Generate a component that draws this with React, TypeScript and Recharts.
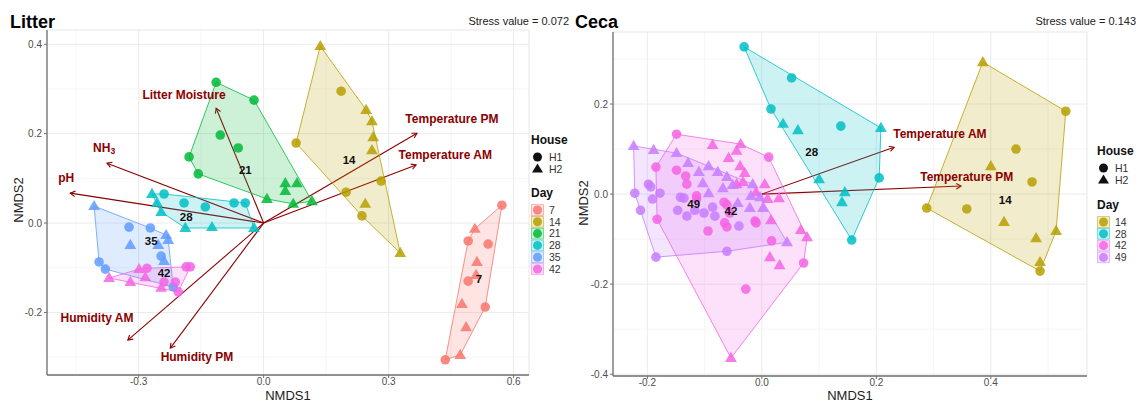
import React from 'react';
import { ScatterChart, Scatter, XAxis, YAxis, CartesianGrid, ReferenceLine } from 'recharts';

const FONT = '"Liberation Sans", Arial, Helvetica, sans-serif';
const ARROW = '#8B0000';

const dayColors: Record<string, string> = {
  '7': '#F8766D', '14': '#B79F00', '21': '#00BA38', '28': '#00BFC4',
  '35': '#619CFF', '42': '#F564E3', '49': '#C77CFF',
};

// ---- Litter ordination scores (H1 = circles, H2 = triangles)
const litterD7H1 = [[0.572, 0.040], [0.491, -0.040], [0.539, -0.047], [0.491, -0.130], [0.532, -0.188], [0.436, -0.306]];
const litterD7H2 = [[0.507, -0.013], [0.512, -0.087], [0.510, -0.116], [0.476, -0.181], [0.486, -0.233], [0.472, -0.295]];
const litterD14H1 = [[0.186, 0.295], [0.078, 0.179], [0.282, 0.094], [0.198, 0.069], [0.236, 0.016]];
const litterD14H2 = [[0.136, 0.396], [0.246, 0.253], [0.260, 0.228], [0.263, 0.192], [0.260, 0.163], [0.244, 0.043], [0.328, -0.067]];
const litterD21H1 = [[-0.114, 0.315], [-0.023, 0.275], [-0.104, 0.197], [-0.061, 0.168], [-0.179, 0.148], [-0.157, 0.110]];
const litterD21H2 = [[0.052, 0.089], [0.080, 0.089], [0.052, 0.072], [0.008, 0.054], [0.071, 0.043], [0.116, 0.049]];
const litterD28H1 = [[-0.239, 0.065], [-0.191, 0.045], [-0.140, 0.036], [-0.071, 0.045], [-0.044, 0.045]];
const litterD28H2 = [[-0.268, 0.065], [-0.256, 0.045], [-0.246, 0.025], [-0.188, -0.011], [-0.124, -0.009], [-0.023, -0.011]];
const litterD35H1 = [[-0.323, -0.009], [-0.272, -0.011], [-0.246, -0.074], [-0.395, -0.087], [-0.380, -0.103], [-0.217, -0.143]];
const litterD35H2 = [[-0.407, 0.038], [-0.234, -0.027], [-0.229, -0.038], [-0.320, -0.049], [-0.253, -0.049], [-0.239, -0.085]];
const litterD42H1 = [[-0.280, -0.101], [-0.186, -0.098], [-0.176, -0.098], [-0.239, -0.132], [-0.212, -0.132], [-0.205, -0.154]];
const litterD42H2 = [[-0.371, -0.123], [-0.320, -0.132], [-0.299, -0.103], [-0.284, -0.121], [-0.246, -0.145]];

const litterDays = ['7', '14', '21', '28', '35', '42'];
const litterDayLabelX = [0.517, 0.205, -0.044, -0.186, -0.270, -0.239];
const litterDayLabelY = [-0.125, 0.141, 0.119, 0.013, -0.040, -0.112];

const litterVars = ['Litter Moisture', 'NH3', 'pH', 'Temperature PM', 'Temperature AM', 'Humidity AM', 'Humidity PM'];
const litterVarX = [-0.114, -0.376, -0.464, 0.368, 0.366, -0.326, -0.224];
const litterVarY = [0.257, 0.134, 0.067, 0.201, 0.130, -0.262, -0.280];
const litterVarLabelX = [-0.191, -0.383, -0.474, 0.452, 0.436, -0.400, -0.160];
const litterVarLabelY = [0.286, 0.168, 0.101, 0.233, 0.152, -0.213, -0.300];

// ---- Ceca ordination scores
const cecaD14H1 = [[0.531, 0.184], [0.444, 0.100], [0.472, 0.027], [0.288, -0.031], [0.358, -0.033], [0.486, -0.171]];
const cecaD14H2 = [[0.386, 0.293], [0.400, 0.062], [0.423, -0.062], [0.514, -0.082], [0.479, -0.098], [0.486, -0.151]];
const cecaD28H1 = [[-0.031, 0.327], [0.052, 0.258], [0.016, 0.189], [0.138, 0.151], [0.205, 0.036], [0.157, -0.102]];
const cecaD28H2 = [[0.037, 0.156], [0.063, 0.142], [0.208, 0.147], [0.100, 0.033], [0.145, 0.004], [0.140, -0.018]];
const cecaD42H1 = [[-0.149, 0.133], [0.012, 0.082], [-0.185, 0.060], [-0.149, 0.053], [-0.133, 0.040], [-0.131, 0.022], [-0.114, -0.004],
  [-0.114, -0.011], [-0.066, -0.018], [-0.061, -0.024], [-0.056, -0.042], [-0.065, -0.064], [-0.061, -0.073], [-0.094, -0.082],
  [-0.012, -0.060], [-0.010, -0.064], [-0.183, -0.056], [0.017, -0.104], [0.073, -0.153], [-0.028, -0.211]];
const cecaD42H2 = [[-0.086, 0.109], [-0.037, 0.111], [-0.058, 0.080], [-0.044, 0.096], [-0.038, 0.062], [-0.030, 0.047], [-0.033, 0.027],
  [-0.044, 0.022], [-0.010, 0.004], [0.005, 0.022], [0.010, -0.011], [0.030, -0.009], [0.016, -0.058], [0.068, -0.080],
  [0.079, -0.096], [0.014, -0.140], [0.031, -0.158], [-0.054, -0.364]];
const cecaD49H1 = [[-0.222, 0.002], [-0.198, 0.022], [-0.194, 0.016], [-0.178, 0.002], [-0.191, -0.011], [-0.212, -0.036], [-0.142, -0.007],
  [-0.136, -0.009], [-0.147, -0.036], [-0.131, -0.049], [-0.117, -0.036], [-0.101, -0.042], [-0.086, -0.029], [-0.082, -0.049],
  [-0.040, -0.071], [-0.061, -0.127], [-0.185, -0.140]];
const cecaD49H2 = [[-0.224, 0.107], [-0.189, 0.098], [-0.149, 0.091], [-0.129, 0.069], [-0.110, 0.049], [-0.093, 0.062], [-0.077, 0.049],
  [-0.061, 0.038], [-0.103, 0.024], [-0.093, 0.002], [-0.068, 0.013], [-0.051, 0.020], [-0.016, 0.022], [-0.019, -0.004],
  [-0.003, -0.007], [-0.042, -0.020], [-0.021, -0.031], [0.002, -0.031], [0.044, -0.107]];

const cecaDays = ['14', '28', '42', '49'];
const cecaDayLabelX = [0.425, 0.087, -0.054, -0.119];
const cecaDayLabelY = [-0.013, 0.093, -0.038, -0.022];

const cecaVars = ['Temperature AM', 'Temperature PM'];
const cecaVarX = [0.231, 0.348];
const cecaVarY = [0.104, 0.018];
const cecaVarLabelX = [0.311, 0.358];
const cecaVarLabelY = [0.133, 0.038];

const litterXTicks = [-0.3, 0, 0.3, 0.6];
const litterXMinor = [-0.45, -0.15, 0.15, 0.45];
const litterYTicks = [-0.2, 0, 0.2, 0.4];
const litterYMinor = [-0.3, -0.1, 0.1, 0.3];
const cecaXTicks = [-0.2, 0, 0.2, 0.4];
const cecaXMinor = [-0.1, 0.1, 0.3, 0.5];
const cecaYTicks = [-0.4, -0.2, 0, 0.2];
const cecaYMinor = [-0.3, -0.1, 0.1, 0.3];

type Pt = number[];

function convexHull(pts: Pt[]): Pt[] {
  const p = [...pts].sort((a, b) => a[0] - b[0] || a[1] - b[1]);
  const cross = (o: Pt, a: Pt, b: Pt) => (a[0] - o[0]) * (b[1] - o[1]) - (a[1] - o[1]) * (b[0] - o[0]);
  const lower: Pt[] = [];
  for (const q of p) {
    while (lower.length >= 2 && cross(lower[lower.length - 2], lower[lower.length - 1], q) <= 0) lower.pop();
    lower.push(q);
  }
  const upper: Pt[] = [];
  for (let i = p.length - 1; i >= 0; i--) {
    const q = p[i];
    while (upper.length >= 2 && cross(upper[upper.length - 2], upper[upper.length - 1], q) <= 0) upper.pop();
    upper.push(q);
  }
  upper.pop();
  lower.pop();
  const h = lower.concat(upper);
  h.push(h[0]);
  return h;
}

const toXY = (pts: Pt[]) => pts.map(([x, y]) => ({ x, y }));

const dotShape = (color: string) => (p: any) => (
  <circle cx={p.cx} cy={p.cy} r={4.8} fill={color} fillOpacity={0.85} />
);
const triShape = (color: string) => (p: any) => (
  <path d={`M${p.cx},${p.cy - 6.2} L${p.cx + 5.9},${p.cy + 4} L${p.cx - 5.9},${p.cy + 4} Z`} fill={color} fillOpacity={0.85} />
);

const arrowShape = (p: any) => {
  const { x1, y1, x2, y2 } = p;
  const ang = Math.atan2(y2 - y1, x2 - x1);
  const L = 5.5;
  const a = Math.PI / 6;
  const ax = x2 - L * Math.cos(ang - a);
  const ay = y2 - L * Math.sin(ang - a);
  const bx = x2 - L * Math.cos(ang + a);
  const by = y2 - L * Math.sin(ang + a);
  return (
    <g>
      <line x1={x1} y1={y1} x2={x2} y2={y2} stroke={ARROW} strokeWidth={1.1} />
      <polyline points={`${ax},${ay} ${x2},${y2} ${bx},${by}`} fill="none" stroke={ARROW} strokeWidth={1.1} />
    </g>
  );
};

const varLabelShape = (p: any) => {
  const name = p.payload.name;
  const common = { x: p.cx, y: p.cy, textAnchor: 'middle' as const, dominantBaseline: 'central' as const, fill: ARROW, fontSize: 12, fontWeight: 700, fontFamily: FONT };
  if (name === 'NH3') {
    return (
      <text {...common}>
        NH<tspan fontSize={8.5} dy={3}>3</tspan>
      </text>
    );
  }
  return <text {...common}>{name}</text>;
};

const dayLabelShape = (p: any) => (
  <text x={p.cx} y={p.cy} textAnchor="middle" dominantBaseline="central" fill="#111" fontSize={11.5} fontWeight={700} fontFamily={FONT}>
    {p.payload.name}
  </text>
);

interface Group { day: string; h1: Pt[]; h2: Pt[] }

interface PanelProps {
  groups: Group[];
  days: string[]; dayX: number[]; dayY: number[];
  vars: string[]; varX: number[]; varY: number[]; varLX: number[]; varLY: number[];
  xDomain: number[]; yDomain: number[];
  xTicks: number[]; yTicks: number[]; xMinor: number[]; yMinor: number[];
  margin: { top: number; right: number; bottom: number; left: number };
  yAxisWidth: number; xAxisHeight: number;
}

const fmt = (v: number) => v.toFixed(1);
const tickStyle = { fill: '#4d4d4d', fontSize: 10, fontFamily: FONT };

function Panel(props: PanelProps) {
  const { groups, days, dayX, dayY, vars, varX, varY, varLX, varLY, xDomain, yDomain, xTicks, yTicks, xMinor, yMinor, margin, yAxisWidth, xAxisHeight } = props;
  const dayLabels = days.map((d, i) => ({ x: dayX[i], y: dayY[i], name: d }));
  const varLabels = vars.map((v, i) => ({ x: varLX[i], y: varLY[i], name: v }));
  return (
    <ScatterChart width={570} height={403} margin={margin}>
      <XAxis xAxisId="minor" type="number" dataKey="x" domain={xDomain} ticks={xMinor} allowDataOverflow hide />
      <YAxis yAxisId="minor" type="number" dataKey="y" domain={yDomain} ticks={yMinor} allowDataOverflow hide />
      <CartesianGrid xAxisId="minor" yAxisId="minor" stroke="#f4f4f4" strokeWidth={0.8} />
      <CartesianGrid stroke="#ebebeb" strokeWidth={1} />
      <XAxis
        type="number" dataKey="x" domain={xDomain} ticks={xTicks} allowDataOverflow
        tickFormatter={fmt} tick={tickStyle} tickSize={3} tickMargin={0} height={xAxisHeight}
        axisLine={{ stroke: '#707070', strokeWidth: 1.3 }} tickLine={{ stroke: '#707070' }}
      />
      <YAxis
        type="number" dataKey="y" domain={yDomain} ticks={yTicks} allowDataOverflow
        tickFormatter={fmt} tick={tickStyle} tickSize={3} tickMargin={2} width={yAxisWidth}
        axisLine={{ stroke: '#707070', strokeWidth: 1.3 }} tickLine={{ stroke: '#707070' }}
      />
      {groups.map((g) => (
        <Scatter
          key={'hull' + g.day}
          data={toXY(convexHull([...g.h1, ...g.h2]))}
          line={{ stroke: dayColors[g.day], strokeWidth: 0.8, fill: dayColors[g.day], fillOpacity: 0.2 }}
          shape={() => <g />}
          isAnimationActive={false}
        />
      ))}
      {groups.map((g) => (
        <Scatter key={'h1' + g.day} data={toXY(g.h1)} shape={dotShape(dayColors[g.day])} isAnimationActive={false} />
      ))}
      {groups.map((g) => (
        <Scatter key={'h2' + g.day} data={toXY(g.h2)} shape={triShape(dayColors[g.day])} isAnimationActive={false} />
      ))}
      {vars.map((v, i) => (
        <ReferenceLine key={'arrow' + v} segment={[{ x: 0, y: 0 }, { x: varX[i], y: varY[i] }]} shape={arrowShape} ifOverflow="visible" />
      ))}
      <Scatter data={dayLabels} shape={dayLabelShape} isAnimationActive={false} />
      <Scatter data={varLabels} shape={varLabelShape} isAnimationActive={false} />
    </ScatterChart>
  );
}

function Legend({ x, houseY, dayY, days }: { x: number; houseY: number; dayY: number; days: string[] }) {
  const kx = x + 6.5;
  const step = 11.8;
  return (
    <g fontFamily={FONT}>
      <text x={x} y={houseY} fontSize={12} fontWeight={700} fill="#111">House</text>
      <circle cx={kx} cy={houseY + 13} r={4.5} fill="#111" />
      <text x={x + 18} y={houseY + 17} fontSize={10.5} fill="#333">H1</text>
      <path d={`M${kx},${houseY + 19.5} L${kx + 5.5},${houseY + 28.5} L${kx - 5.5},${houseY + 28.5} Z`} fill="#111" />
      <text x={x + 18} y={houseY + 29} fontSize={10.5} fill="#333">H2</text>
      <text x={x} y={dayY} fontSize={12} fontWeight={700} fill="#111">Day</text>
      {days.map((d, i) => {
        const cy = dayY + 13 + i * step;
        return (
          <g key={d}>
            <rect x={x + 0.5} y={cy - step / 2 + 0.5} width={12} height={step - 1} fill={dayColors[d]} fillOpacity={0.2} stroke={dayColors[d]} strokeOpacity={0.6} strokeWidth={0.8} />
            <circle cx={kx} cy={cy} r={4.5} fill={dayColors[d]} fillOpacity={0.85} />
            <text x={x + 18} y={cy + 3.8} fontSize={10.5} fill="#333">{d}</text>
          </g>
        );
      })}
    </g>
  );
}

export default function App() {
  const litterGroups: Group[] = [
    { day: '7', h1: litterD7H1, h2: litterD7H2 },
    { day: '14', h1: litterD14H1, h2: litterD14H2 },
    { day: '21', h1: litterD21H1, h2: litterD21H2 },
    { day: '28', h1: litterD28H1, h2: litterD28H2 },
    { day: '35', h1: litterD35H1, h2: litterD35H2 },
    { day: '42', h1: litterD42H1, h2: litterD42H2 },
  ];
  const cecaGroups: Group[] = [
    { day: '14', h1: cecaD14H1, h2: cecaD14H2 },
    { day: '28', h1: cecaD28H1, h2: cecaD28H2 },
    { day: '42', h1: cecaD42H1, h2: cecaD42H2 },
    { day: '49', h1: cecaD49H1, h2: cecaD49H2 },
  ];
  return (
    <div style={{ position: 'fixed', left: 0, top: 0, width: 1140, height: 403, background: '#fff', fontFamily: FONT }}>
      <div style={{ position: 'absolute', left: 0, top: 0 }}>
        <Panel
          groups={litterGroups}
          days={litterDays} dayX={litterDayLabelX} dayY={litterDayLabelY}
          vars={litterVars} varX={litterVarX} varY={litterVarY} varLX={litterVarLabelX} varLY={litterVarLabelY}
          xDomain={[-0.52, 0.637]} yDomain={[-0.34, 0.432]}
          xTicks={litterXTicks} yTicks={litterYTicks} xMinor={litterXMinor} yMinor={litterYMinor}
          margin={{ top: 30, right: 41, bottom: 0, left: 0 }} yAxisWidth={47} xAxisHeight={28}
        />
      </div>
      <div style={{ position: 'absolute', left: 570, top: 0 }}>
        <Panel
          groups={cecaGroups}
          days={cecaDays} dayX={cecaDayLabelX} dayY={cecaDayLabelY}
          vars={cecaVars} varX={cecaVarX} varY={cecaVarY} varLX={cecaVarLabelX} varLY={cecaVarLabelY}
          xDomain={[-0.26, 0.568]} yDomain={[-0.404, 0.36]}
          xTicks={cecaXTicks} yTicks={cecaYTicks} xMinor={cecaXMinor} yMinor={cecaYMinor}
          margin={{ top: 32, right: 53, bottom: 0, left: 0 }} yAxisWidth={43} xAxisHeight={27}
        />
      </div>
      <svg width={1140} height={403} style={{ position: 'absolute', left: 0, top: 0, pointerEvents: 'none' }} fontFamily={FONT}>
        <text x={10} y={28} fontSize={18} fontWeight={700} fill="#000">Litter</text>
        <text x={569} y={25} fontSize={11} textAnchor="end" fill="#222">Stress value = 0.072</text>
        <text x={575} y={28} fontSize={18} fontWeight={700} fill="#000">Ceca</text>
        <text x={1136} y={25} fontSize={11} textAnchor="end" fill="#222">Stress value = 0.143</text>
        <text x={288} y={400} fontSize={13} textAnchor="middle" fill="#222">NMDS1</text>
        <text x={850} y={400} fontSize={13} textAnchor="middle" fill="#222">NMDS1</text>
        <text transform="translate(22.5,200) rotate(-90)" fontSize={13} textAnchor="middle" fill="#222">NMDS2</text>
        <text transform="translate(587.5,203) rotate(-90)" fontSize={13} textAnchor="middle" fill="#222">NMDS2</text>
        <Legend x={531} houseY={144} dayY={197} days={litterDays} />
        <Legend x={1097} houseY={155} dayY={209} days={cecaDays} />
      </svg>
    </div>
  );
}
